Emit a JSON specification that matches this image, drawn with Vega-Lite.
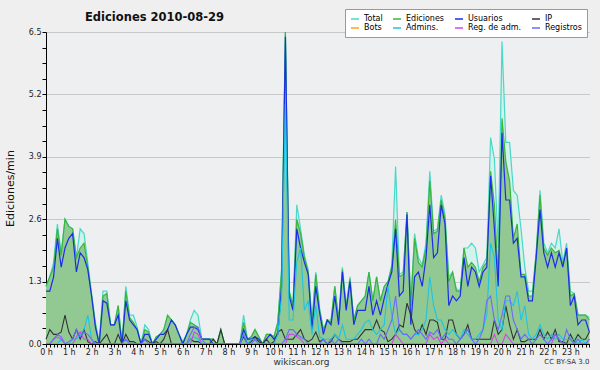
{
"$schema":"https://vega.github.io/schema/vega-lite/v6.json",
"width":543.4,"height":312,
"autosize":{"type":"none"},
"padding":{"left":46,"top":32,"right":10.6,"bottom":26},
"background":"#efefef",
"config":{"view":{"fill":"#edeff1","stroke":null},"font":"DejaVu Sans"},
"title":{"text":"Ediciones  2010-08-29","anchor":"start","frame":"group","dx":39,"offset":-15,"fontSize":11.5,"fontWeight":"bold","color":"#111111"},
"datasets":{"d":[
{"t":0,"Total":1.2,"Ediciones":1.2,"Usuarios":1.1,"IP":0.1,"Admins":0,"RegAdm":0,"Registros":0},
{"t":10,"Total":1.4,"Ediciones":1.4,"Usuarios":1.1,"IP":0.3,"Admins":0,"RegAdm":0,"Registros":0},
{"t":20,"Total":1.7,"Ediciones":1.6,"Usuarios":1.4,"IP":0.2,"Admins":0,"RegAdm":0.1,"Registros":0.1},
{"t":30,"Total":2.5,"Ediciones":2.4,"Usuarios":2.2,"IP":0.2,"Admins":0,"RegAdm":0.15,"Registros":0.2},
{"t":40,"Total":1.9,"Ediciones":1.85,"Usuarios":1.6,"IP":0.25,"Admins":0.1,"RegAdm":0.1,"Registros":0.15},
{"t":50,"Total":2.6,"Ediciones":2.6,"Usuarios":2.0,"IP":0.6,"Admins":0,"RegAdm":0,"Registros":0},
{"t":60,"Total":2.45,"Ediciones":2.45,"Usuarios":2.2,"IP":0.25,"Admins":0,"RegAdm":0,"Registros":0.05},
{"t":70,"Total":2.4,"Ediciones":2.4,"Usuarios":2.3,"IP":0.1,"Admins":0.1,"RegAdm":0,"Registros":0.1},
{"t":80,"Total":1.8,"Ediciones":1.8,"Usuarios":1.5,"IP":0.3,"Admins":0.1,"RegAdm":0.15,"Registros":0.3},
{"t":90,"Total":2.4,"Ediciones":2.0,"Usuarios":1.9,"IP":0.1,"Admins":0.2,"RegAdm":0.25,"Registros":0.15},
{"t":100,"Total":2.3,"Ediciones":2.1,"Usuarios":1.8,"IP":0.3,"Admins":0.3,"RegAdm":0.1,"Registros":0.25},
{"t":110,"Total":1.7,"Ediciones":1.6,"Usuarios":1.55,"IP":0.05,"Admins":0.6,"RegAdm":0.1,"Registros":0.2},
{"t":120,"Total":1.05,"Ediciones":1.0,"Usuarios":1.0,"IP":0,"Admins":0.1,"RegAdm":0,"Registros":0.1},
{"t":130,"Total":0.45,"Ediciones":0.4,"Usuarios":0.35,"IP":0.05,"Admins":0,"RegAdm":0,"Registros":0},
{"t":140,"Total":0.05,"Ediciones":0,"Usuarios":0,"IP":0,"Admins":0,"RegAdm":0,"Registros":0},
{"t":150,"Total":1.1,"Ediciones":1.0,"Usuarios":0.9,"IP":0.1,"Admins":0,"RegAdm":0,"Registros":0},
{"t":160,"Total":1.1,"Ediciones":1.05,"Usuarios":0.85,"IP":0.2,"Admins":0,"RegAdm":0,"Registros":0},
{"t":170,"Total":0.4,"Ediciones":0.4,"Usuarios":0.4,"IP":0,"Admins":0,"RegAdm":0,"Registros":0},
{"t":180,"Total":0.4,"Ediciones":0.4,"Usuarios":0.4,"IP":0,"Admins":0,"RegAdm":0,"Registros":0},
{"t":190,"Total":0.8,"Ediciones":0.8,"Usuarios":0.6,"IP":0.2,"Admins":0,"RegAdm":0,"Registros":0},
{"t":200,"Total":0,"Ediciones":0,"Usuarios":0,"IP":0,"Admins":0,"RegAdm":0,"Registros":0},
{"t":210,"Total":1.2,"Ediciones":1.1,"Usuarios":0.9,"IP":0.2,"Admins":0.1,"RegAdm":0,"Registros":0.1},
{"t":220,"Total":0.6,"Ediciones":0.55,"Usuarios":0.5,"IP":0.05,"Admins":0,"RegAdm":0,"Registros":0},
{"t":230,"Total":0.6,"Ediciones":0.45,"Usuarios":0.4,"IP":0.05,"Admins":0,"RegAdm":0,"Registros":0},
{"t":240,"Total":0.35,"Ediciones":0.3,"Usuarios":0.3,"IP":0,"Admins":0,"RegAdm":0,"Registros":0},
{"t":250,"Total":0,"Ediciones":0,"Usuarios":0,"IP":0,"Admins":0,"RegAdm":0,"Registros":0},
{"t":260,"Total":0.4,"Ediciones":0.3,"Usuarios":0.2,"IP":0.1,"Admins":0,"RegAdm":0,"Registros":0.1},
{"t":270,"Total":0.3,"Ediciones":0.25,"Usuarios":0.2,"IP":0.05,"Admins":0,"RegAdm":0,"Registros":0},
{"t":280,"Total":0,"Ediciones":0,"Usuarios":0,"IP":0,"Admins":0,"RegAdm":0,"Registros":0},
{"t":290,"Total":0.15,"Ediciones":0.15,"Usuarios":0.1,"IP":0.05,"Admins":0,"RegAdm":0,"Registros":0},
{"t":300,"Total":0.2,"Ediciones":0.2,"Usuarios":0.2,"IP":0,"Admins":0,"RegAdm":0,"Registros":0},
{"t":310,"Total":0.3,"Ediciones":0.3,"Usuarios":0.2,"IP":0.1,"Admins":0,"RegAdm":0,"Registros":0},
{"t":320,"Total":0.6,"Ediciones":0.6,"Usuarios":0.3,"IP":0.3,"Admins":0,"RegAdm":0,"Registros":0},
{"t":330,"Total":0.5,"Ediciones":0.5,"Usuarios":0.5,"IP":0,"Admins":0,"RegAdm":0,"Registros":0},
{"t":340,"Total":0.4,"Ediciones":0.4,"Usuarios":0.4,"IP":0,"Admins":0,"RegAdm":0,"Registros":0},
{"t":350,"Total":0.2,"Ediciones":0.2,"Usuarios":0.2,"IP":0,"Admins":0,"RegAdm":0,"Registros":0},
{"t":360,"Total":0.05,"Ediciones":0,"Usuarios":0,"IP":0,"Admins":0,"RegAdm":0,"Registros":0},
{"t":370,"Total":0.2,"Ediciones":0.2,"Usuarios":0.2,"IP":0,"Admins":0,"RegAdm":0,"Registros":0},
{"t":380,"Total":0.5,"Ediciones":0.45,"Usuarios":0.35,"IP":0.1,"Admins":0.1,"RegAdm":0,"Registros":0.2},
{"t":390,"Total":0.7,"Ediciones":0.4,"Usuarios":0.35,"IP":0.05,"Admins":0.15,"RegAdm":0.25,"Registros":0.35},
{"t":400,"Total":0.6,"Ediciones":0.35,"Usuarios":0.3,"IP":0.05,"Admins":0.1,"RegAdm":0.2,"Registros":0.35},
{"t":410,"Total":0.1,"Ediciones":0.1,"Usuarios":0.1,"IP":0,"Admins":0,"RegAdm":0,"Registros":0.1},
{"t":420,"Total":0.1,"Ediciones":0.1,"Usuarios":0.1,"IP":0,"Admins":0,"RegAdm":0,"Registros":0},
{"t":430,"Total":0.1,"Ediciones":0.1,"Usuarios":0.1,"IP":0,"Admins":0,"RegAdm":0,"Registros":0},
{"t":440,"Total":0.1,"Ediciones":0.1,"Usuarios":0,"IP":0.1,"Admins":0,"RegAdm":0,"Registros":0},
{"t":450,"Total":0,"Ediciones":0,"Usuarios":0,"IP":0,"Admins":0,"RegAdm":0,"Registros":0},
{"t":460,"Total":0.3,"Ediciones":0.3,"Usuarios":0,"IP":0.3,"Admins":0,"RegAdm":0,"Registros":0},
{"t":470,"Total":0,"Ediciones":0,"Usuarios":0,"IP":0,"Admins":0,"RegAdm":0,"Registros":0},
{"t":480,"Total":0,"Ediciones":0,"Usuarios":0,"IP":0,"Admins":0,"RegAdm":0,"Registros":0},
{"t":490,"Total":0,"Ediciones":0,"Usuarios":0,"IP":0,"Admins":0,"RegAdm":0,"Registros":0},
{"t":500,"Total":0,"Ediciones":0,"Usuarios":0,"IP":0,"Admins":0,"RegAdm":0,"Registros":0},
{"t":510,"Total":0,"Ediciones":0,"Usuarios":0,"IP":0,"Admins":0,"RegAdm":0,"Registros":0},
{"t":520,"Total":0.6,"Ediciones":0.45,"Usuarios":0.3,"IP":0.15,"Admins":0.2,"RegAdm":0,"Registros":0.2},
{"t":530,"Total":0.1,"Ediciones":0.1,"Usuarios":0.1,"IP":0,"Admins":0,"RegAdm":0,"Registros":0},
{"t":540,"Total":0.15,"Ediciones":0.15,"Usuarios":0.1,"IP":0.05,"Admins":0.1,"RegAdm":0,"Registros":0},
{"t":550,"Total":0.3,"Ediciones":0.3,"Usuarios":0.15,"IP":0.15,"Admins":0.1,"RegAdm":0,"Registros":0.1},
{"t":560,"Total":0.15,"Ediciones":0.15,"Usuarios":0.1,"IP":0.05,"Admins":0,"RegAdm":0,"Registros":0},
{"t":570,"Total":0,"Ediciones":0,"Usuarios":0,"IP":0,"Admins":0,"RegAdm":0,"Registros":0},
{"t":580,"Total":0.2,"Ediciones":0.2,"Usuarios":0.1,"IP":0.1,"Admins":0,"RegAdm":0,"Registros":0},
{"t":590,"Total":0.2,"Ediciones":0.2,"Usuarios":0.2,"IP":0,"Admins":0,"RegAdm":0,"Registros":0},
{"t":600,"Total":0.15,"Ediciones":0.15,"Usuarios":0.1,"IP":0.05,"Admins":0,"RegAdm":0,"Registros":0},
{"t":610,"Total":0.45,"Ediciones":0.45,"Usuarios":0.2,"IP":0.25,"Admins":0.2,"RegAdm":0,"Registros":0},
{"t":620,"Total":1.6,"Ediciones":1.5,"Usuarios":1.2,"IP":0.3,"Admins":1.0,"RegAdm":0,"Registros":0},
{"t":630,"Total":6.5,"Ediciones":6.5,"Usuarios":6.4,"IP":0.1,"Admins":5.0,"RegAdm":0,"Registros":0.1},
{"t":640,"Total":1.1,"Ediciones":1.1,"Usuarios":1.0,"IP":0.1,"Admins":0.5,"RegAdm":0.2,"Registros":0.3},
{"t":650,"Total":0.8,"Ediciones":0.8,"Usuarios":0.7,"IP":0.1,"Admins":0.5,"RegAdm":0.2,"Registros":0.3},
{"t":660,"Total":2.9,"Ediciones":2.6,"Usuarios":2.4,"IP":0.2,"Admins":1.7,"RegAdm":0.15,"Registros":0.2},
{"t":670,"Total":2.4,"Ediciones":2.3,"Usuarios":2.0,"IP":0.3,"Admins":2.0,"RegAdm":0.1,"Registros":0.15},
{"t":680,"Total":1.85,"Ediciones":1.8,"Usuarios":1.7,"IP":0.1,"Admins":0.7,"RegAdm":0,"Registros":0.1},
{"t":690,"Total":1.55,"Ediciones":1.5,"Usuarios":1.45,"IP":0.05,"Admins":0.9,"RegAdm":0,"Registros":0},
{"t":700,"Total":0.5,"Ediciones":0.4,"Usuarios":0.3,"IP":0.1,"Admins":0.2,"RegAdm":0,"Registros":0},
{"t":710,"Total":1.5,"Ediciones":1.45,"Usuarios":1.2,"IP":0.25,"Admins":0.8,"RegAdm":0,"Registros":0},
{"t":720,"Total":0.75,"Ediciones":0.7,"Usuarios":0.65,"IP":0.05,"Admins":0.15,"RegAdm":0,"Registros":0},
{"t":730,"Total":0.3,"Ediciones":0.3,"Usuarios":0.2,"IP":0.1,"Admins":0.1,"RegAdm":0,"Registros":0.1},
{"t":740,"Total":0.5,"Ediciones":0.5,"Usuarios":0.5,"IP":0,"Admins":0.1,"RegAdm":0,"Registros":0},
{"t":750,"Total":0.5,"Ediciones":0.45,"Usuarios":0.4,"IP":0.05,"Admins":0.1,"RegAdm":0,"Registros":0.1},
{"t":760,"Total":1.2,"Ediciones":1.2,"Usuarios":1.0,"IP":0.2,"Admins":0.2,"RegAdm":0,"Registros":0},
{"t":770,"Total":0.5,"Ediciones":0.5,"Usuarios":0.4,"IP":0.1,"Admins":0.1,"RegAdm":0,"Registros":0.1},
{"t":780,"Total":1.6,"Ediciones":1.55,"Usuarios":1.5,"IP":0.05,"Admins":0.4,"RegAdm":0,"Registros":0},
{"t":790,"Total":0.8,"Ediciones":0.75,"Usuarios":0.7,"IP":0.05,"Admins":0.1,"RegAdm":0,"Registros":0},
{"t":800,"Total":1.4,"Ediciones":1.35,"Usuarios":1.3,"IP":0.05,"Admins":0.1,"RegAdm":0,"Registros":0},
{"t":810,"Total":0.5,"Ediciones":0.5,"Usuarios":0.4,"IP":0.1,"Admins":0.1,"RegAdm":0,"Registros":0},
{"t":820,"Total":0.8,"Ediciones":0.8,"Usuarios":0.7,"IP":0.1,"Admins":0.2,"RegAdm":0,"Registros":0},
{"t":830,"Total":0.9,"Ediciones":0.9,"Usuarios":0.7,"IP":0.2,"Admins":0.3,"RegAdm":0,"Registros":0.1},
{"t":840,"Total":1.0,"Ediciones":1.0,"Usuarios":0.7,"IP":0.3,"Admins":0.45,"RegAdm":0,"Registros":0},
{"t":850,"Total":1.5,"Ediciones":1.5,"Usuarios":1.2,"IP":0.3,"Admins":0.5,"RegAdm":0,"Registros":0.1},
{"t":860,"Total":0.9,"Ediciones":0.9,"Usuarios":0.6,"IP":0.3,"Admins":0.3,"RegAdm":0,"Registros":0},
{"t":870,"Total":1.4,"Ediciones":1.4,"Usuarios":0.9,"IP":0.5,"Admins":0.2,"RegAdm":0,"Registros":0},
{"t":880,"Total":0.9,"Ediciones":0.9,"Usuarios":0.6,"IP":0.3,"Admins":0.3,"RegAdm":0,"Registros":0.2},
{"t":890,"Total":1.2,"Ediciones":1.2,"Usuarios":0.95,"IP":0.25,"Admins":0.4,"RegAdm":0,"Registros":0.1},
{"t":900,"Total":1.3,"Ediciones":1.3,"Usuarios":1.25,"IP":0.05,"Admins":1.2,"RegAdm":0,"Registros":0.3},
{"t":910,"Total":1.65,"Ediciones":1.6,"Usuarios":1.5,"IP":0.1,"Admins":0.6,"RegAdm":0,"Registros":0.5},
{"t":920,"Total":3.7,"Ediciones":2.6,"Usuarios":2.4,"IP":0.2,"Admins":0.2,"RegAdm":0.2,"Registros":1.0},
{"t":930,"Total":1.45,"Ediciones":1.4,"Usuarios":1.0,"IP":0.4,"Admins":0.3,"RegAdm":0.1,"Registros":0.3},
{"t":940,"Total":1.5,"Ediciones":1.45,"Usuarios":1.1,"IP":0.35,"Admins":0.2,"RegAdm":0,"Registros":0.2},
{"t":950,"Total":2.75,"Ediciones":2.75,"Usuarios":2.7,"IP":0.85,"Admins":0.2,"RegAdm":0,"Registros":0.2},
{"t":960,"Total":0.9,"Ediciones":0.8,"Usuarios":0.4,"IP":0.6,"Admins":0.1,"RegAdm":0,"Registros":0.1},
{"t":970,"Total":2.3,"Ediciones":2.2,"Usuarios":1.4,"IP":0.3,"Admins":0.2,"RegAdm":0,"Registros":0.2},
{"t":980,"Total":1.8,"Ediciones":1.7,"Usuarios":1.5,"IP":0.2,"Admins":0.2,"RegAdm":0,"Registros":0.3},
{"t":990,"Total":1.65,"Ediciones":1.6,"Usuarios":1.2,"IP":0.4,"Admins":0.3,"RegAdm":0,"Registros":0.2},
{"t":1000,"Total":2.1,"Ediciones":2.0,"Usuarios":1.8,"IP":0.2,"Admins":0.5,"RegAdm":0,"Registros":0.1},
{"t":1010,"Total":3.6,"Ediciones":3.4,"Usuarios":2.9,"IP":0.5,"Admins":1.4,"RegAdm":0.2,"Registros":0.25},
{"t":1020,"Total":2.35,"Ediciones":2.3,"Usuarios":1.8,"IP":0.5,"Admins":0.8,"RegAdm":0.1,"Registros":0.2},
{"t":1030,"Total":2.4,"Ediciones":2.35,"Usuarios":1.9,"IP":0.45,"Admins":0.5,"RegAdm":0.15,"Registros":0.3},
{"t":1040,"Total":3.1,"Ediciones":3.0,"Usuarios":2.9,"IP":0.1,"Admins":0.5,"RegAdm":0,"Registros":0.1},
{"t":1050,"Total":2.7,"Ediciones":2.6,"Usuarios":2.5,"IP":0.1,"Admins":0.3,"RegAdm":0.1,"Registros":0.2},
{"t":1060,"Total":1.4,"Ediciones":1.3,"Usuarios":0.8,"IP":0.5,"Admins":0.2,"RegAdm":0,"Registros":0.1},
{"t":1070,"Total":1.5,"Ediciones":1.5,"Usuarios":1.0,"IP":0.5,"Admins":0.3,"RegAdm":0,"Registros":0.1},
{"t":1080,"Total":1.15,"Ediciones":1.1,"Usuarios":0.9,"IP":0.2,"Admins":0.2,"RegAdm":0,"Registros":0},
{"t":1090,"Total":1.1,"Ediciones":1.1,"Usuarios":1.0,"IP":0.1,"Admins":0.1,"RegAdm":0,"Registros":0.1},
{"t":1100,"Total":2.0,"Ediciones":2.0,"Usuarios":1.8,"IP":0.2,"Admins":0.3,"RegAdm":0,"Registros":0.2},
{"t":1110,"Total":2.0,"Ediciones":1.6,"Usuarios":1.2,"IP":0.4,"Admins":0.2,"RegAdm":0,"Registros":0.3},
{"t":1120,"Total":2.1,"Ediciones":1.7,"Usuarios":1.6,"IP":0.1,"Admins":0.1,"RegAdm":0,"Registros":0.1},
{"t":1130,"Total":2.0,"Ediciones":1.6,"Usuarios":1.5,"IP":0.1,"Admins":0.1,"RegAdm":0,"Registros":0},
{"t":1140,"Total":1.5,"Ediciones":1.3,"Usuarios":1.2,"IP":0.1,"Admins":0.2,"RegAdm":0,"Registros":0.1},
{"t":1150,"Total":1.65,"Ediciones":1.6,"Usuarios":1.5,"IP":0.1,"Admins":0.3,"RegAdm":0,"Registros":0.3},
{"t":1160,"Total":1.8,"Ediciones":1.7,"Usuarios":1.6,"IP":0.1,"Admins":0.6,"RegAdm":0,"Registros":0.9},
{"t":1170,"Total":4.3,"Ediciones":3.6,"Usuarios":3.5,"IP":0.1,"Admins":2.1,"RegAdm":0,"Registros":1.0},
{"t":1180,"Total":3.85,"Ediciones":2.9,"Usuarios":2.4,"IP":0.5,"Admins":1.8,"RegAdm":0.2,"Registros":0.5},
{"t":1190,"Total":2.0,"Ediciones":1.4,"Usuarios":1.2,"IP":0.2,"Admins":0.5,"RegAdm":0,"Registros":0.3},
{"t":1200,"Total":6.3,"Ediciones":4.7,"Usuarios":4.4,"IP":0.3,"Admins":0.3,"RegAdm":0,"Registros":0.6},
{"t":1210,"Total":4.2,"Ediciones":3.8,"Usuarios":3.0,"IP":0.8,"Admins":0.9,"RegAdm":0.2,"Registros":1.0},
{"t":1220,"Total":4.2,"Ediciones":3.4,"Usuarios":3.0,"IP":0.4,"Admins":0.9,"RegAdm":0.1,"Registros":1.0},
{"t":1230,"Total":3.2,"Ediciones":2.2,"Usuarios":2.1,"IP":0.1,"Admins":0.8,"RegAdm":0,"Registros":0.5},
{"t":1240,"Total":3.1,"Ediciones":2.5,"Usuarios":2.2,"IP":0.3,"Admins":1.1,"RegAdm":0,"Registros":0.3},
{"t":1250,"Total":2.4,"Ediciones":1.45,"Usuarios":1.4,"IP":0.05,"Admins":0.5,"RegAdm":0,"Registros":0.1},
{"t":1260,"Total":1.6,"Ediciones":1.45,"Usuarios":1.4,"IP":0.05,"Admins":0.8,"RegAdm":0,"Registros":0.2},
{"t":1270,"Total":1.1,"Ediciones":1.0,"Usuarios":0.9,"IP":0.1,"Admins":0.2,"RegAdm":0,"Registros":0.1},
{"t":1280,"Total":1.1,"Ediciones":1.0,"Usuarios":0.9,"IP":0.1,"Admins":0.1,"RegAdm":0,"Registros":0},
{"t":1290,"Total":1.9,"Ediciones":1.9,"Usuarios":1.8,"IP":0.1,"Admins":0.2,"RegAdm":0,"Registros":0.1},
{"t":1300,"Total":3.2,"Ediciones":3.1,"Usuarios":2.8,"IP":0.3,"Admins":0.4,"RegAdm":0,"Registros":0.2},
{"t":1310,"Total":2.1,"Ediciones":2.0,"Usuarios":1.9,"IP":0.1,"Admins":0.2,"RegAdm":0,"Registros":0.1},
{"t":1320,"Total":1.9,"Ediciones":1.85,"Usuarios":1.6,"IP":0.25,"Admins":0.1,"RegAdm":0,"Registros":0},
{"t":1330,"Total":2.1,"Ediciones":2.0,"Usuarios":1.9,"IP":0.1,"Admins":0.2,"RegAdm":0,"Registros":0.1},
{"t":1340,"Total":2.0,"Ediciones":1.9,"Usuarios":1.6,"IP":0.3,"Admins":0.1,"RegAdm":0.2,"Registros":0.2},
{"t":1350,"Total":2.4,"Ediciones":1.95,"Usuarios":1.9,"IP":0.05,"Admins":0.2,"RegAdm":0.1,"Registros":0.1},
{"t":1360,"Total":1.7,"Ediciones":1.65,"Usuarios":1.6,"IP":0.05,"Admins":0.1,"RegAdm":0,"Registros":0},
{"t":1370,"Total":2.1,"Ediciones":2.0,"Usuarios":2.0,"IP":0,"Admins":0.1,"RegAdm":0,"Registros":0.3},
{"t":1380,"Total":1.1,"Ediciones":1.0,"Usuarios":0.8,"IP":0.2,"Admins":0.1,"RegAdm":0,"Registros":0.1},
{"t":1390,"Total":1.05,"Ediciones":1.05,"Usuarios":1.0,"IP":0.05,"Admins":0.1,"RegAdm":0,"Registros":0},
{"t":1400,"Total":0.6,"Ediciones":0.6,"Usuarios":0.4,"IP":0.2,"Admins":0,"RegAdm":0,"Registros":0.1},
{"t":1410,"Total":0.6,"Ediciones":0.6,"Usuarios":0.5,"IP":0.1,"Admins":0.1,"RegAdm":0,"Registros":0},
{"t":1420,"Total":0.6,"Ediciones":0.6,"Usuarios":0.5,"IP":0.1,"Admins":0,"RegAdm":0,"Registros":0},
{"t":1430,"Total":0.55,"Ediciones":0.5,"Usuarios":0.25,"IP":0.25,"Admins":0.1,"RegAdm":0,"Registros":0.1}
]},
"data":{"name":"d"},
"encoding":{
 "x":{"field":"t","type":"quantitative","scale":{"domain":[0,1430],"nice":false,"zero":false},
  "axis":{"title":"wikiscan.org","tickCount":143,"labelExpr":"datum.value % 60 === 0 ? (datum.value/60) + ' h' : ''","labelOverlap":false,"labelFlush":false,"labelBound":false,"grid":false,"zindex":1,"domainColor":"#000000","tickColor":"#000000","tickSize":3,"labelFontSize":8,"labelColor":"#222222","labelPadding":1,"titleFontSize":9,"titleFontWeight":"normal","titleColor":"#333333","titleX":255,"titleY":13,"titleBaseline":"top","titleAlign":"center"}},
 "y":{"field":"v","type":"quantitative","scale":{"domain":[0,6.5],"nice":false},
  "axis":{"title":"Ediciones/min","values":[0,0.325,0.65,0.975,1.3,1.625,1.95,2.275,2.6,2.925,3.25,3.575,3.9,4.225,4.55,4.875,5.2,5.525,5.85,6.175,6.5],
   "labelExpr":"abs(datum.value/1.3 - round(datum.value/1.3)) < 0.01 ? format(datum.value, '.1f') : ''",
   "labelOverlap":false,"labelFlush":false,"labelBound":false,
   "gridColor":"#c8c8c8","gridOpacity":{"condition":{"test":"abs(datum.value/1.3 - round(datum.value/1.3)) < 0.01 && datum.value > 0","value":1},"value":0},
   "domainColor":"#000000","tickColor":"#000000","tickSize":4,"labelFontSize":8,"labelColor":"#222222","labelPadding":1,
   "titleFontSize":11,"titleFontWeight":"normal","titleColor":"#111111","titleX":-36,"titleY":156,"titleAlign":"center","titleBaseline":"middle","titleAngle":270}},
 "color":{"field":"serie","type":"nominal",
  "scale":{"domain":["Total","Ediciones","Usuarios","IP","Bots","Admins","RegAdm","Registros"],"range":["#4ad8c8","#3cb43c","#1a2ee8","#333333","#ffa020","#1ec4e4","#d444ee","#6a6aff"]},
  "legend":{"title":null,"orient":"none","legendX":299,"legendY":-23,"direction":"horizontal","columns":4,"gridAlign":"each","symbolType":"stroke","symbolSize":64,"symbolStrokeWidth":1.5,"labelFontSize":8,"labelColor":"#000000","labelOffset":4,"columnPadding":7,"rowPadding":0,"padding":5,"fillColor":"#ffffff","strokeColor":"#999999",
   "labelExpr":"datum.label == 'Admins' ? 'Admins.' : datum.label == 'RegAdm' ? 'Reg. de adm.' : datum.label"}}
},
"layer":[
 {"transform":[{"fold":["Total"],"as":["serie","v"]}],"mark":{"type":"area"},"encoding":{"color":{"value":"#d2f2ec"}}},
 {"transform":[{"fold":["Ediciones"],"as":["serie","v"]}],"mark":{"type":"area"},"encoding":{"color":{"value":"#92c993"}}},
 {"transform":[{"fold":["Total"],"as":["serie","v"]}],"mark":{"type":"line","strokeWidth":1.2}},
 {"transform":[{"fold":["Ediciones"],"as":["serie","v"]}],"mark":{"type":"line","strokeWidth":1.2}},
 {"transform":[{"fold":["Usuarios"],"as":["serie","v"]}],"mark":{"type":"line","strokeWidth":1.2}},
 {"transform":[{"fold":["IP"],"as":["serie","v"]}],"mark":{"type":"line","strokeWidth":1.1}},
 {"transform":[{"fold":["Admins"],"as":["serie","v"]}],"mark":{"type":"line","strokeWidth":1.1}},
 {"transform":[{"fold":["RegAdm"],"as":["serie","v"]}],"mark":{"type":"line","strokeWidth":1.1}},
 {"transform":[{"fold":["Registros"],"as":["serie","v"]}],"mark":{"type":"line","strokeWidth":1.1}},
 {"data":{"values":[{"t":1430,"v":0,"txt":"CC BY-SA 3.0"}]},"mark":{"type":"text","align":"right","baseline":"top","dy":14,"fontSize":7},"encoding":{"text":{"field":"txt"},"color":{"value":"#333333"}}}
]
}
